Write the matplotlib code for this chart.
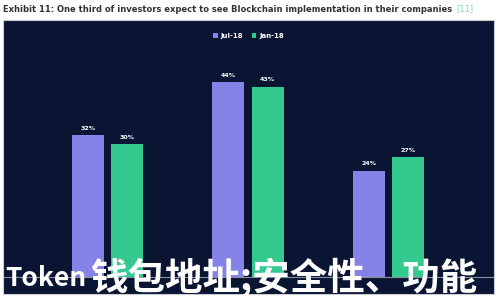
import numpy as np
import matplotlib.pyplot as plt

# data
groups = ["A", "B", "C"]
jul18 = [32, 44, 24]
jan18 = [30, 43, 27]
series_names = ["Jul-18", "Jan-18"]

title = "Exhibit 11: One third of investors expect to see Blockchain implementation in their companies"
overlay_latin = "Token"
overlay_cjk = "钱包地址;安全性、功能"

navy = "#0a1433"
purple = "#8583e8"
green = "#34c98f"

fig = plt.figure(figsize=(5, 3), dpi=100, facecolor="white")
ax = fig.add_axes([3 / 500, 6 / 300, 491 / 500, 274 / 300])
ax.set_facecolor(navy)

x = np.arange(len(groups))
w = 0.228
off = 0.139
b1 = ax.bar(x - off, jul18, w, color=purple, label=series_names[0])
b2 = ax.bar(x + off, jan18, w, color=green, label=series_names[1])

for bars, vals in [(b1, jul18), (b2, jan18)]:
    for b, v in zip(bars, vals):
        ax.text(b.get_x() + b.get_width() / 2, v + 1.0, f"{v}%", ha="center", va="bottom",
                color="white", fontsize=4.5, fontweight="bold")

ax.axhline(0, color="#8a8f9c", lw=0.8)
ax.set_xlim(-0.744, 2.751)
ax.set_ylim(-3.8, 58)
ax.set_xticks([])
ax.set_yticks([])
for s in ax.spines.values():
    s.set_color("#c9ccd3")
    s.set_linewidth(0.8)

leg = ax.legend(loc="upper center", bbox_to_anchor=(0.5, 0.975), ncol=2, frameon=False,
                fontsize=5, handlelength=0.7, handleheight=0.7, columnspacing=1.2,
                handletextpad=0.4)
for t in leg.get_texts():
    t.set_color("white")
    t.set_fontweight("bold")

t1 = fig.text(3 / 500, 1 - 9 / 300, title, fontsize=6.0, fontweight="bold", color="#333333",
              va="center", ha="left")

# big overlay caption, cut off at the right edge
fam = ["Noto Sans CJK SC", "DejaVu Sans"]
t2 = fig.text(5 / 500, 1 - 278 / 300, overlay_latin, fontsize=19, fontweight="bold", color="white",
              family=fam, va="center", ha="left")

fig.canvas.draw()
bb = t1.get_window_extent()
fig.text((bb.x1 + 4) / 500, 1 - 9 / 300, "[11]", fontsize=6.0, color="#7fd6c8", va="center", ha="left")
bb2 = t2.get_window_extent()
fig.text((bb2.x1 + 4) / 500, 1 - 278 / 300, overlay_cjk, fontsize=27, fontweight="bold", color="white",
         family=fam, va="center", ha="left")

fig.savefig("out.png", dpi=100, facecolor="white")
